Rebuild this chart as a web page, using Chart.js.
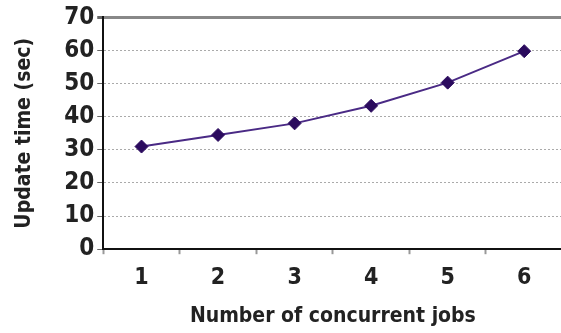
<!DOCTYPE html>
<html>
<head>
<meta charset="utf-8">
<script src="https://cdn.jsdelivr.net/npm/chart.js@4/dist/chart.umd.min.js"></script>
<style>
  html, body { margin: 0; padding: 0; background: #fff; overflow: hidden; }
  #wrap { width: 570px; height: 333px; }
</style>
</head>
<body>
<div id="wrap"><canvas id="jobsChart"></canvas></div>
<script>
// Chart data
const jobs = ["1", "2", "3", "4", "5", "6"];
const updateTimes = [31, 34.5, 38, 43.3, 50.3, 59.8];
const yMin = 0;
const yMax = 70;
const yStep = 10;

const fontFamily = "'DejaVu Sans Condensed', 'Liberation Sans Narrow', sans-serif";

document.addEventListener("DOMContentLoaded", function () {
  const ctx = document.getElementById("jobsChart");
  new Chart(ctx, {
    type: "line",
    data: {
      labels: jobs,
      datasets: [
        {
          label: "Update time",
          data: updateTimes,
          borderColor: "#4a2a85",
          borderWidth: 2,
          backgroundColor: "#2b0b5e",
          pointStyle: "rectRot",
          pointRadius: 6.5,
          pointBackgroundColor: "#2b0b5e",
          pointBorderColor: "#2b0b5e",
          pointBorderWidth: 1,
          tension: 0,
        },
      ],
    },
    options: {
      responsive: true,
      maintainAspectRatio: false,
      animation: false,
      layout: {
        padding: { top: 4, left: 12, right: 0, bottom: 4 },
      },
      plugins: {
        legend: { display: false },
        tooltip: { enabled: false },
      },
      scales: {
        x: {
          offset: true,
          grid: {
            offset: true,
            drawOnChartArea: false,
            drawTicks: true,
            tickLength: 5,
            tickColor: "#999",
            tickWidth: 2,
          },
          border: { display: true, color: "#111", width: 2 },
          ticks: {
            autoSkip: false,
            maxRotation: 0,
            color: "#222",
            padding: 10,
            font: { family: fontFamily, size: 23, weight: "bold" },
          },
          title: {
            display: true,
            text: "Number of concurrent jobs",
            color: "#222",
            padding: { top: 2, bottom: 0 },
            font: { family: fontFamily, size: 21, weight: "bold" },
          },
        },
        y: {
          min: yMin,
          max: yMax,
          ticks: {
            autoSkip: false,
            stepSize: yStep,
            color: "#222",
            padding: 3,
            font: { family: fontFamily, size: 24, weight: "bold" },
          },
          grid: {
            color: function (c) {
              return c.tick && c.tick.value === yMax ? "#888" : "#aaa";
            },
            lineWidth: function (c) {
              return c.tick && c.tick.value === yMax ? 3 : 1;
            },
            tickLength: 6,
            tickColor: "#666",
          },
          border: {
            display: true,
            color: "#111",
            width: 2,
            dash: function (c) {
              return c.tick && (c.tick.value === yMax || c.tick.value === yMin) ? [] : [2, 2];
            },
          },
          title: {
            display: true,
            text: "Update time (sec)",
            color: "#222",
            padding: { top: 0, bottom: 24 },
            font: { family: fontFamily, size: 21, weight: "bold" },
          },
        },
      },
    },
  });
});
</script>
</body>
</html>
